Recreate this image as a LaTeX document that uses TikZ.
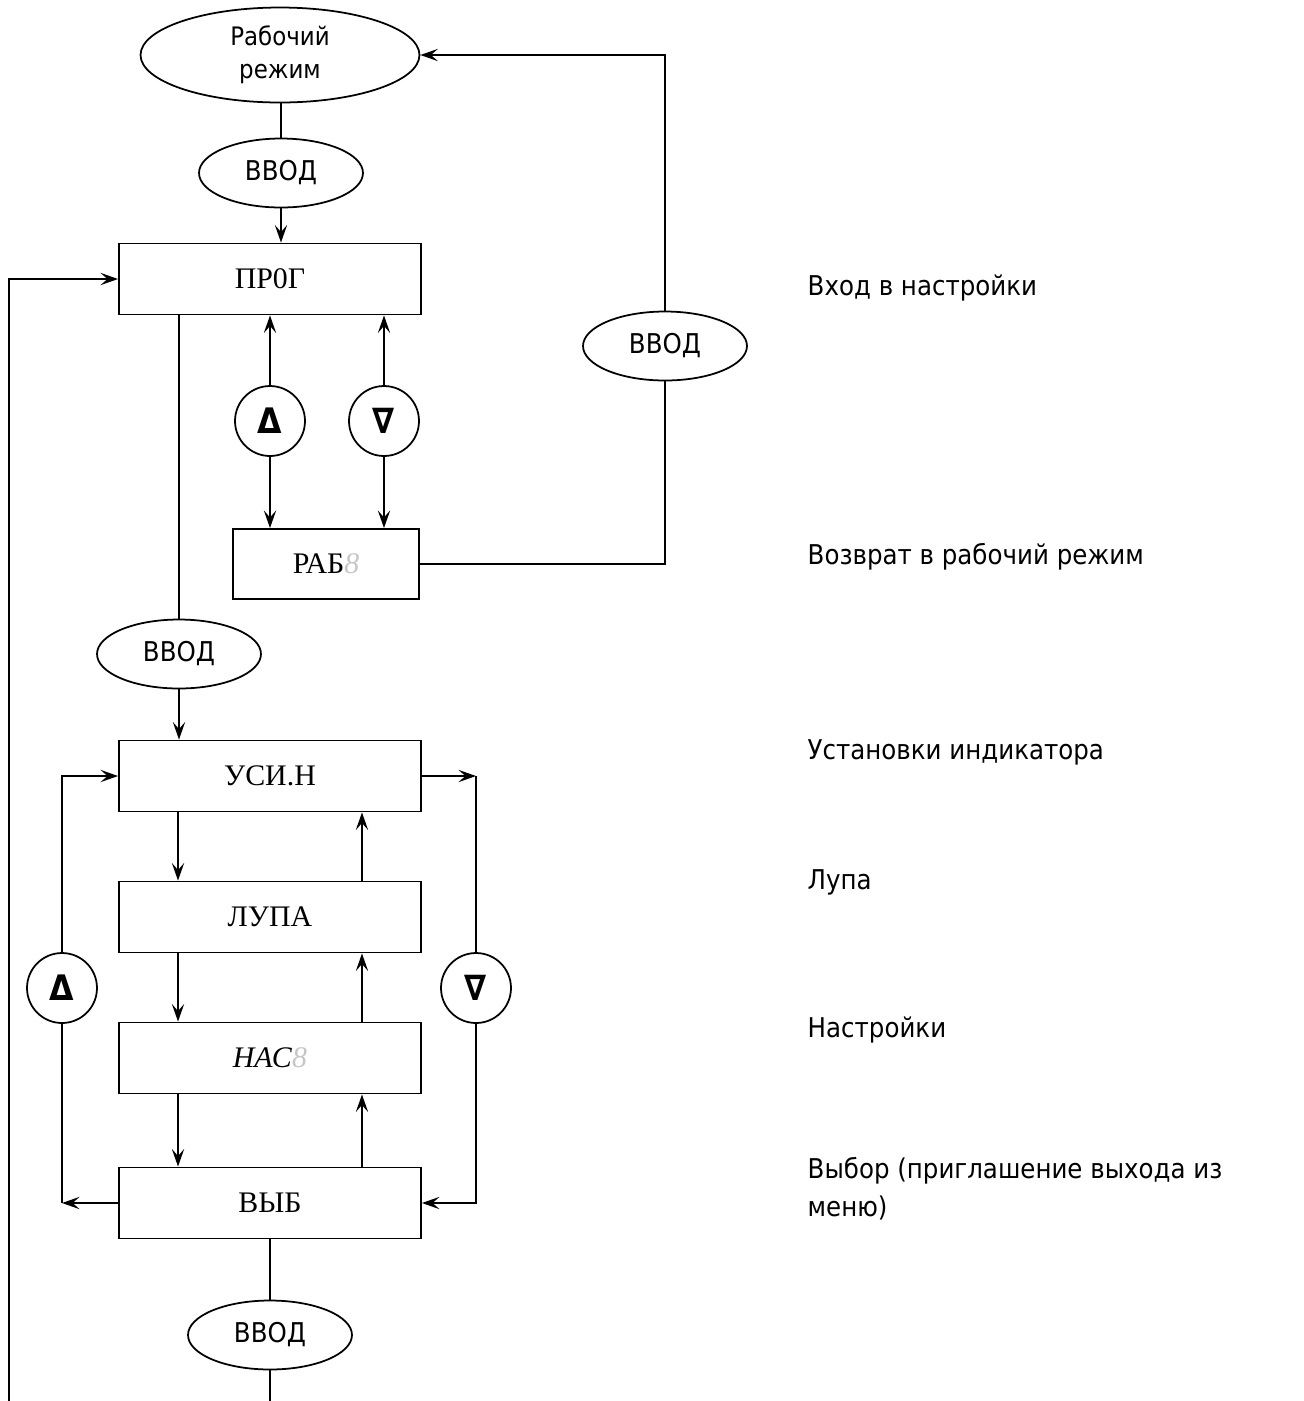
\documentclass[tikz,border=0pt]{standalone}
\usepackage{fontspec}
\setmainfont{Liberation Serif}
\newfontfamily\tahoma[FakeStretch=0.9]{DejaVu Sans}
\usetikzlibrary{positioning, arrows.meta, shapes.geometric}

\begin{document}
\begin{tikzpicture}[x=0.02cm,y=-0.02cm,line width=1pt,
  strel/.style={-{Stealth[length=10pt,width=7pt,inset=4pt]}},
  blok/.style={draw,rectangle,minimum width=6.04cm,minimum height=1.42cm,
    inner sep=0pt,line width=1.1pt,font=\fontsize{17}{20}\selectfont},
  knop/.style={draw,ellipse,minimum width=3.28cm,minimum height=1.38cm,
    inner sep=0pt,font=\tahoma\fontsize{15.5}{18}\selectfont},
  krug/.style={draw,circle,minimum size=1.4cm,inner sep=0pt,
    font=\tahoma\bfseries\fontsize{20}{22}\selectfont},
  opis/.style={anchor=west,align=left,font=\tahoma\fontsize{15.5}{21.5}\selectfont}]
  \useasboundingbox (0,0) rectangle (1304,1401);
  % upper part
  \node[knop,minimum width=5.58cm,minimum height=1.9cm,align=center,
        font=\tahoma\fontsize{14.5}{18.7}\selectfont] (rab) at (280,55) {Рабочий\\режим};
  \node[knop] (vvod1) at (281,173) {ВВОД};
  \node[blok] (prog) at (270,279) {ПР0Г};
  \node[krug] (up1) at (270,421) {Δ};
  \node[krug] (dn1) at (384,421) {∇};
  \node[blok,minimum width=3.72cm,minimum height=1.4cm] (rab8) at (326,564)
       {РАБ\textcolor{gray!45}{\textit{8}}};
  \node[knop] (vvod3) at (665,346) {ВВОД};
  \node[knop] (vvod2) at (179,654) {ВВОД};
  % menu
  \node[blok] (usin) at (270,776) {УСИ.Н};
  \node[blok] (lupa) at (270,917) {ЛУПА};
  \node[blok] (nas) at (270,1058) {\textit{НАС}\textcolor{gray!45}{\textit{8}}};
  \node[blok] (vyb) at (270,1203) {ВЫБ};
  \node[krug] (up2) at (62,988) {Δ};
  \node[krug] (dn2) at (476,988) {∇};
  \node[knop] (vvod4) at (270,1335) {ВВОД};
  \coordinate (niz1) at (9,1401);
  \coordinate (niz2) at (270,1401);
  \coordinate (pr) at (dn2 |- usin.east);
  \coordinate (lv) at (up2 |- vyb.west);

  \draw (rab.south -| vvod1.north) -- (vvod1.north);
  \draw[strel] (vvod1.south) -- (vvod1.south |- prog.north);
  \draw[strel] (niz1) |- (prog.west);
  \draw (prog.south -| vvod2.north) -- (vvod2.north);
  \draw[strel] (vvod2.south) -- (vvod2.south |- usin.north);
  \foreach \k in {up1,dn1}{
    \draw[strel] (\k.north) -- (\k.north |- prog.south);
    \draw[strel] (\k.south) -- (\k.south |- rab8.north);
  }
  \draw (rab8.east) -| (vvod3.south);
  \draw[strel] (vvod3.north) |- (rab.east);

  \foreach \a/\b in {usin/lupa,lupa/nas,nas/vyb}{
    \draw[strel] ([xshift=-1.84cm]\a.south) -- ([xshift=-1.84cm]\b.north);
    \draw[strel] ([xshift=1.84cm]\b.north) -- ([xshift=1.84cm]\a.south);
  }
  \draw[strel] (usin.east) -- (pr);
  \draw (pr) -- (dn2);
  \draw[strel] (dn2.south) |- (vyb.east);
  \draw[strel] (vyb.west) -- (lv);
  \draw (lv) -- (up2);
  \draw[strel] (up2.north) |- (usin.west);
  \draw (vyb) -- (vvod4);
  \draw (vvod4) -- (niz2);

  % descriptions
  \node[opis] (o1) at (801,288) {Вход в настройки};
  \node[opis] (o2) at (801,557) {Возврат в рабочий режим};
  \node[opis] (o3) at (801,752) {Установки индикатора};
  \node[opis] (o4) at (801,882) {Лупа};
  \node[opis] (o5) at (801,1030) {Настройки};
  \node[opis] (o6) at (801,1189) {Выбор (приглашение выхода из\\меню)};
\end{tikzpicture}
\end{document}
